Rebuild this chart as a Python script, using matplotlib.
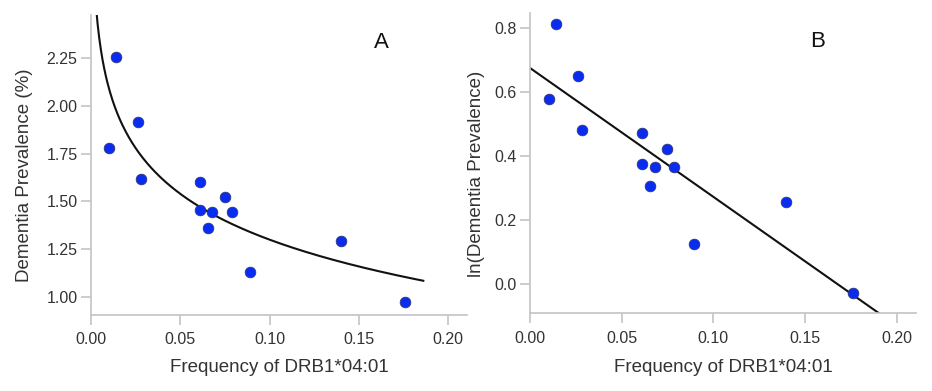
import numpy as np
import matplotlib
matplotlib.use("Agg")
import matplotlib.pyplot as plt

plt.rcParams['font.family'] = ['Liberation Sans', 'DejaVu Sans']

# Data
freq_drb1 = [0.0142, 0.0104, 0.0263, 0.0281, 0.0610, 0.0611, 0.0680,
             0.0656, 0.0749, 0.0788, 0.0893, 0.1398, 0.1760]
dementia_prev = [2.259, 1.781, 1.918, 1.617, 1.603, 1.455, 1.442,
                 1.358, 1.524, 1.442, 1.131, 1.292, 0.970]

x_ticks = [0.00, 0.05, 0.10, 0.15, 0.20]
x_ticklabels = ["0.00", "0.05", "0.10", "0.15", "0.20"]
yA_ticks = [1.00, 1.25, 1.50, 1.75, 2.00, 2.25]
yA_ticklabels = ["1.00", "1.25", "1.50", "1.75", "2.00", "2.25"]
yB_ticks = [0.0, 0.2, 0.4, 0.6, 0.8]
yB_ticklabels = ["0.0", "0.2", "0.4", "0.6", "0.8"]

x = np.array(freq_drb1)
y = np.array(dementia_prev)
ln_y = np.log(y)

W, H = 932, 391
fig = plt.figure(figsize=(W / 100, H / 100), dpi=100)

def ax_rect(l, r, t, b):
    return [l / W, 1 - b / H, (r - l) / W, (b - t) / H]

axA = fig.add_axes(ax_rect(90.7, 467.3, 15, 315))
axB = fig.add_axes(ax_rect(530, 916, 13.3, 313.3))

text_col = '#333333'
spine_col = '#c4c4c4'
dot_col = '#0a2cf0'

for ax in (axA, axB):
    for s in ('top', 'right'):
        ax.spines[s].set_visible(False)
    for s in ('left', 'bottom'):
        ax.spines[s].set_color(spine_col)
        ax.spines[s].set_linewidth(1.2)
    ax.tick_params(axis='both', colors=spine_col, length=7.5, width=1.2,
                   labelcolor=text_col, labelsize=11.5)
    ax.tick_params(axis='x', pad=5)
    ax.tick_params(axis='y', pad=2)
    ax.set_xticks(x_ticks)
    ax.set_xticklabels(x_ticklabels)
    ax.set_xlim(0, 0.2106)
    ax.set_xlabel("Frequency of DRB1*04:01", fontsize=13.5, color=text_col)

# Panel A: logarithmic fit
bA, aA = np.polyfit(np.log(x), y, 1)
xc = np.linspace(0.002, 0.186, 400)
axA.plot(xc, aA + bA * np.log(xc), color='#111111', lw=1.5, zorder=2)
axA.scatter(x, y, s=60, color=dot_col, edgecolors='#333366', linewidths=0.5, zorder=3)
axA.set_ylim(0.904, 2.477)
axA.set_yticks(yA_ticks)
axA.set_yticklabels(yA_ticklabels)
axA.set_ylabel("Dementia Prevalence (%)", fontsize=13.5, color=text_col)
axA.yaxis.set_label_coords(-0.153, 0.467)
axA.xaxis.set_label_coords(0.5, -0.147)
axA.text(0.772, 0.91, "A", transform=axA.transAxes, fontsize=16, color='#111111',
         ha='center', va='center')

# Panel B: linear fit on ln
bB, aB = np.polyfit(x, ln_y, 1)
xl = np.linspace(0, 0.2, 200)
axB.plot(xl, aB + bB * xl, color='#111111', lw=1.5, zorder=2)
axB.scatter(x, ln_y, s=60, color=dot_col, edgecolors='#333366', linewidths=0.5, zorder=3)
axB.set_ylim(-0.0927, 0.847)
axB.set_yticks(yB_ticks)
axB.set_yticklabels(yB_ticklabels)
axB.set_ylabel("ln(Dementia Prevalence)", fontsize=13.5, color=text_col)
axB.yaxis.set_label_coords(-0.117, 0.464)
axB.xaxis.set_label_coords(0.5, -0.152)
axB.text(0.745, 0.905, "B", transform=axB.transAxes, fontsize=16, color='#111111',
         ha='center', va='center')

fig.savefig("out.png", dpi=100)
